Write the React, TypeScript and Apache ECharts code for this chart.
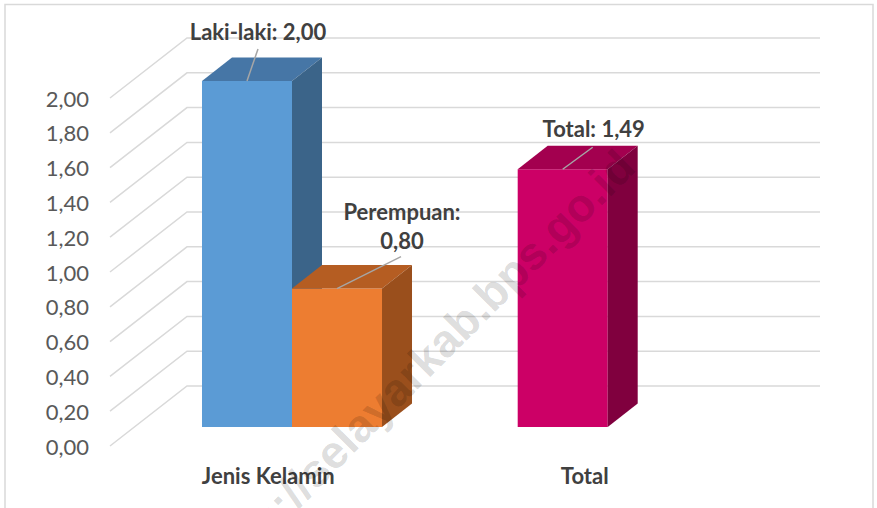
import React, { useEffect, useRef } from "react";
import * as echarts from "echarts";

const categories = ["Jenis Kelamin", "Total"];
const yTickValues = [0, 0.2, 0.4, 0.6, 0.8, 1.0, 1.2, 1.4, 1.6, 1.8, 2.0];
const lakiLaki = [2.0, null];
const perempuan = [0.8, null];
const totalValues = [null, 1.49];
const seriesNames = ["Laki-laki", "Perempuan", "Total"];
const watermark = "https://selayarkab.bps.go.id";

const FONT = "Lato, 'Open Sans', sans-serif";
const DEPTH_X = 30;
const DEPTH_Y = -23.5;

const fmt = (v: number) => v.toFixed(2).replace(".", ",");

function toData(values: (number | null)[]) {
  const out: any[] = [];
  values.forEach((v, i) => {
    if (v !== null) out.push([i, v]);
  });
  return out;
}

function barSeries(
  name: string,
  values: (number | null)[],
  slot: number,
  colors: { front: string; top: string; side: string },
  label: { lead: [number, number]; text: [number, number]; wrap?: boolean }
) {
  return {
    type: "custom",
    name,
    xAxisIndex: 1,
    yAxisIndex: 1,
    z: 5,
    data: toData(values),
    renderItem: (params: any, api: any) => {
      const ci = api.value(0);
      const v = api.value(1);
      const base = api.coord([ci, 0]);
      const top = api.coord([ci, v]);
      const bw = api.size([1, 0])[0] * 0.3325;
      const x0 = base[0] + slot * bw;
      const x1 = x0 + bw;
      const ty = top[1];
      const by = base[1];
      const ax = x0 + bw / 2;
      const text = label.wrap ? `${name}:\n${fmt(v)}` : `${name}: ${fmt(v)}`;
      return {
        type: "group",
        children: [
          {
            type: "rect",
            shape: { x: x0, y: ty, width: bw, height: by - ty },
            style: { fill: colors.front },
          },
          {
            type: "polygon",
            shape: {
              points: [
                [x0, ty],
                [x0 + DEPTH_X, ty + DEPTH_Y],
                [x1 + DEPTH_X, ty + DEPTH_Y],
                [x1, ty],
              ],
            },
            style: { fill: colors.top },
          },
          {
            type: "polygon",
            shape: {
              points: [
                [x1, ty],
                [x1 + DEPTH_X, ty + DEPTH_Y],
                [x1 + DEPTH_X, by + DEPTH_Y],
                [x1, by],
              ],
            },
            style: { fill: colors.side },
          },
          {
            type: "line",
            shape: { x1: ax, y1: ty, x2: ax + label.lead[0], y2: ty + label.lead[1] },
            style: { stroke: "#a6a6a6", lineWidth: 1.5 },
          },
          {
            type: "text",
            x: ax + label.text[0],
            y: ty + label.text[1],
            style: {
              text,
              fill: "#404040",
              font: `bold 22px ${FONT}`,
              align: "center",
              verticalAlign: "middle",
              lineHeight: 29,
            },
          },
        ],
      };
    },
  };
}

export default function App() {
  const ref = useRef<HTMLDivElement>(null);
  useEffect(() => {
    if (!ref.current) return;
    const chart = echarts.init(ref.current, undefined, { renderer: "svg" });
    const option: any = {
      animation: false,
      backgroundColor: "#ffffff",
      grid: [
        { left: 110, top: 98, width: 633, height: 348 },
        { left: 156.65, top: 81, width: 541.4, height: 346 },
      ],
      xAxis: [
        {
          type: "category",
          gridIndex: 0,
          data: categories,
          axisLine: { show: false },
          axisTick: { show: false },
          axisLabel: {
            color: "#404040",
            fontFamily: FONT,
            fontWeight: "bold",
            fontSize: 22,
            margin: 18,
          },
        },
        {
          type: "category",
          gridIndex: 1,
          data: categories,
          show: false,
        },
      ],
      yAxis: [
        {
          type: "value",
          gridIndex: 0,
          min: 0,
          max: 2,
          interval: 0.2,
          axisLine: { show: false },
          axisTick: { show: false },
          splitLine: { show: false },
          axisLabel: {
            color: "#595959",
            fontFamily: FONT,
            fontSize: 22,
            margin: 21,
            formatter: (v: number) => fmt(v),
          },
        },
        {
          type: "value",
          gridIndex: 1,
          min: 0,
          max: 2,
          show: false,
        },
      ],
      graphic: [
        {
          type: "rect",
          shape: { x: 5, y: 4.5, width: 868, height: 530 },
          style: { fill: "none", stroke: "#d9d9d9", lineWidth: 1.5 },
          z: 0,
        },
        {
          type: "text",
          x: 610,
          y: 142,
          rotation: (45 * Math.PI) / 180,
          z: 100,
          style: {
            text: watermark,
            fill: "rgba(0,0,0,0.15)",
            font: "bold 46px 'Liberation Sans', Arial, sans-serif",
            align: "right",
            verticalAlign: "alphabetic",
          },
        },
      ],
      series: [
        {
          type: "custom",
          name: "grid",
          xAxisIndex: 0,
          yAxisIndex: 0,
          z: 1,
          silent: true,
          data: yTickValues.map((v) => [0, v]),
          renderItem: (params: any, api: any) => {
            const cs = params.coordSys;
            const p = api.coord([0, api.value(1)]);
            const y = p[1];
            return {
              type: "polyline",
              shape: {
                points: [
                  [cs.x, y],
                  [cs.x + 77, y - 60],
                  [cs.x + cs.width + 77, y - 60],
                ],
              },
              style: { stroke: "#d9d9d9", lineWidth: 1.5, fill: "none" },
            };
          },
        },
        barSeries(
          seriesNames[0],
          lakiLaki,
          -1,
          { front: "#5b9bd5", top: "#4676a6", side: "#3b6489" },
          { lead: [11, -32], text: [11, -50] }
        ),
        barSeries(
          seriesNames[1],
          perempuan,
          0,
          { front: "#ed7d31", top: "#b55d22", side: "#9a4f1c" },
          { lead: [64, -32], text: [65, -63], wrap: true }
        ),
        barSeries(
          seriesNames[2],
          totalValues,
          -0.5,
          { front: "#cc0066", top: "#a3004f", side: "#80003e" },
          { lead: [30, -22], text: [31, -41] }
        ),
      ],
    };
    chart.setOption(option);
    return () => chart.dispose();
  }, []);
  return (
    <div
      ref={ref}
      style={{ position: "fixed", left: 0, top: 0, width: 877, height: 508 }}
    />
  );
}
